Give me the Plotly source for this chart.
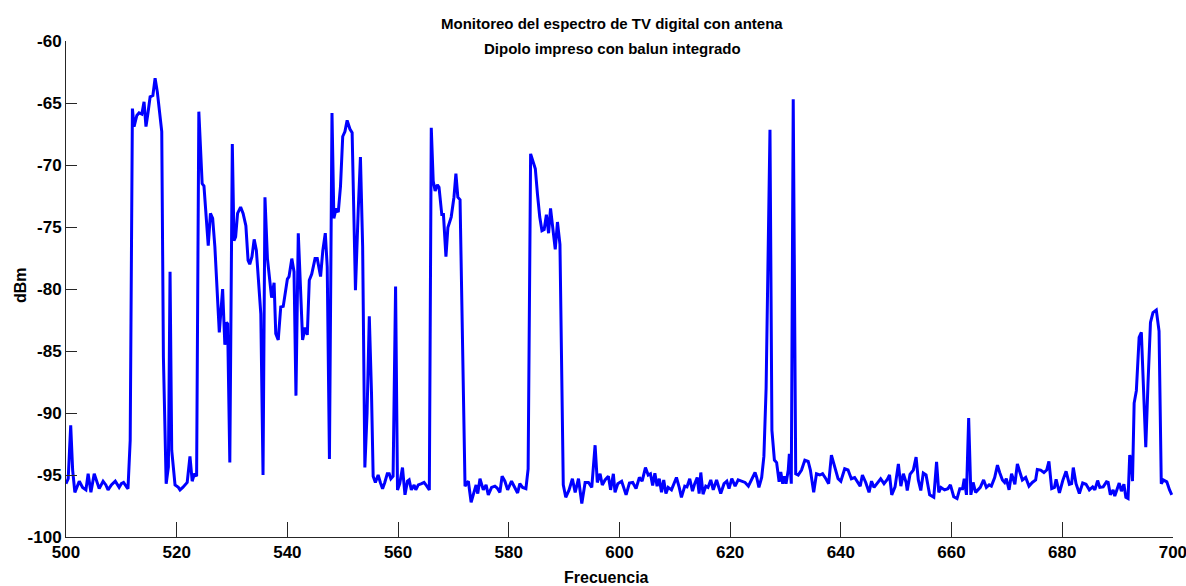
import plotly.graph_objects as go

freq = [
    500.0, 500.4, 500.85, 501.2, 501.6, 502.0, 502.4, 503.0, 503.6, 504.0,
    504.5, 505.1, 505.5, 506.0, 506.7, 507.2, 507.6, 508.2, 508.9, 509.6,
    510.0, 510.4, 511.0, 511.2, 511.6, 512.0, 512.3, 512.8, 513.2, 513.7,
    514.1, 514.45, 514.8, 515.2, 515.7, 516.1, 516.5, 517.0, 517.3, 517.6,
    518.1, 518.5, 518.8, 519.1, 519.7, 520.3, 520.6, 521.1, 521.5, 521.9,
    522.4, 522.8, 523.2, 523.6, 524.0, 524.6, 524.93, 525.7, 526.1, 526.5,
    526.9, 527.7, 528.3, 528.7, 529.0, 529.2, 529.6, 530.05, 530.35, 530.65,
    531.0, 531.55, 532.0, 532.5, 532.9, 533.2, 533.6, 534.0, 534.4, 534.9,
    535.2, 535.6, 535.95, 536.4, 536.9, 537.15, 537.6, 537.9, 538.35, 538.8,
    539.25, 539.75, 540.0, 540.3, 540.8, 541.2, 541.55, 541.97, 542.4, 542.75,
    543.2, 543.6, 543.96, 544.4, 545.0, 545.4, 546.0, 546.4, 546.85, 547.2,
    547.6, 548.06, 548.4, 548.8, 549.2, 549.6, 550.0, 550.4, 550.8, 551.3,
    551.7, 552.3, 552.8, 553.2, 553.6, 554.0, 554.4, 554.8, 555.2, 555.5,
    555.9, 556.4, 556.8, 557.2, 557.6, 558.05, 558.4, 558.7, 559.1, 559.55,
    559.9, 560.3, 560.8, 561.25, 561.7, 562.0, 562.4, 562.9, 563.2, 563.65,
    564.25, 564.7, 565.2, 565.65, 566.0, 566.35, 566.7, 567.1, 567.4, 567.9,
    568.2, 568.65, 569.0, 569.6, 570.1, 570.45, 570.8, 571.2, 572.1, 572.7,
    573.2, 573.6, 574.1, 574.4, 574.8, 575.4, 575.9, 576.3, 576.9, 577.5,
    577.9, 578.4, 578.8, 579.3, 579.8, 580.5, 581.1, 581.6, 582.0, 582.5,
    583.1, 583.5, 583.95, 584.3, 584.8, 585.2, 585.6, 586.0, 586.4, 586.8,
    587.2, 587.55, 588.0, 588.4, 588.8, 589.25, 589.85, 590.3, 590.9, 591.5,
    592.0, 592.6, 593.2, 593.8, 594.4, 595.0, 595.6, 596.0, 596.5, 596.9,
    597.4, 598.0, 598.4, 598.9, 599.2, 599.7, 600.4, 601.2, 601.8, 602.4,
    603.0, 603.6, 604.1, 604.7, 605.2, 605.6, 606.0, 606.4, 606.8, 607.2,
    607.6, 608.0, 608.4, 608.8, 609.4, 609.8, 610.3, 610.8, 611.2, 611.8,
    612.2, 612.7, 613.2, 613.6, 614.05, 614.4, 614.7, 615.1, 615.6, 616.0,
    616.5, 616.95, 617.55, 618.3, 618.9, 619.4, 619.8, 620.3, 620.9, 621.45,
    622.1, 622.7, 623.3, 623.9, 624.5, 624.8, 625.2, 625.7, 626.1, 626.5,
    626.8, 627.2, 627.55, 628.0, 628.4, 628.85, 629.15, 629.5, 629.8, 630.1,
    630.5, 630.7, 631.05, 631.4, 631.85, 632.3, 632.9, 633.5, 634.1, 634.5,
    635.1, 635.6, 636.2, 636.7, 637.3, 637.8, 638.3, 638.9, 639.5, 640.0,
    640.7, 641.3, 641.9, 642.5, 643.0, 643.5, 643.9, 644.5, 645.1, 645.55,
    646.0, 646.5, 647.2, 647.8, 648.4, 648.8, 649.2, 649.8, 650.4, 650.85,
    651.3, 651.8, 652.0, 652.5, 653.1, 653.6, 654.0, 654.45, 654.9, 655.4,
    656.05, 656.8, 657.3, 657.7, 658.1, 658.75, 659.35, 659.8, 660.4, 661.0,
    661.5, 662.0, 662.3, 662.7, 663.1, 663.5, 663.9, 664.35, 664.8, 665.2,
    665.8, 666.3, 666.8, 667.2, 667.8, 668.3, 668.7, 669.2, 669.6, 669.9,
    670.4, 670.85, 671.45, 671.9, 672.3, 672.8, 673.4, 674.0, 674.6, 675.2,
    675.5, 676.1, 676.7, 677.2, 677.6, 678.1, 678.6, 678.9, 679.5, 680.1,
    680.7, 681.3, 681.7, 682.0, 682.5, 683.1, 683.7, 684.3, 684.9, 685.5,
    685.9, 686.4, 686.8, 687.4, 688.0, 688.3, 688.7, 689.2, 689.5, 689.9,
    690.3, 690.7, 691.15, 691.5, 691.9, 692.2, 692.5, 692.7, 693.0, 693.4,
    693.9, 694.3, 694.7, 695.1, 695.5, 695.95, 696.4, 697.0, 697.5, 697.9,
    698.3, 698.9, 699.4, 699.8,
]

dbm = [
    -95.7, -95.3, -91.0, -94.6, -96.4, -95.9, -95.5, -96.0, -96.2, -94.9,
    -96.4, -94.9, -95.4, -96.1, -95.5, -95.8, -96.2, -95.8, -95.5, -96.0,
    -95.7, -95.6, -96.0, -96.1, -92.2, -65.45, -66.9, -66.0, -65.8, -65.9,
    -64.9, -66.9, -65.85, -64.5, -64.4, -63.0, -64.1, -65.85, -67.3, -85.5,
    -95.7, -94.35, -78.6, -93.0, -95.8, -96.0, -96.2, -96.0, -95.8, -95.6,
    -93.5, -95.5, -94.9, -95.1, -65.7, -71.5, -71.7, -76.5, -73.9, -74.3,
    -76.6, -83.5, -80.0, -84.5, -82.7, -82.8, -94.0, -68.3, -76.1, -75.8,
    -73.9, -73.4, -73.9, -74.9, -77.7, -78.0, -77.4, -76.0, -76.9, -79.8,
    -82.0, -95.0, -72.6, -77.55, -79.4, -80.7, -79.5, -83.6, -84.1, -81.45,
    -81.4, -79.8, -79.2, -79.0, -77.55, -78.6, -88.6, -75.5, -80.9, -84.1,
    -83.1, -83.7, -79.3, -78.8, -77.55, -77.55, -79.0, -76.9, -75.5, -78.2,
    -93.7, -65.8, -74.3, -73.5, -73.8, -71.7, -67.7, -67.3, -66.4, -67.1,
    -67.4, -80.1, -73.65, -69.35, -76.6, -94.4, -90.0, -82.2, -88.4, -95.1,
    -95.6, -95.0, -95.6, -96.1, -95.6, -94.9, -94.9, -95.3, -95.1, -79.8,
    -96.2, -95.7, -94.4, -96.6, -95.5, -95.4, -96.2, -95.8, -96.2, -95.8,
    -95.7, -95.6, -95.9, -96.2, -67.0, -71.3, -72.1, -71.6, -71.8, -74.0,
    -74.0, -77.4, -75.05, -74.2, -72.6, -70.7, -72.6, -72.8, -95.9, -95.5,
    -97.2, -96.5, -95.8, -96.5, -95.3, -96.2, -95.8, -96.6, -96.0, -95.9,
    -96.05, -96.4, -95.1, -95.5, -96.2, -95.5, -96.0, -96.45, -95.7, -96.0,
    -96.1, -94.5, -69.1, -69.6, -70.3, -72.4, -74.2, -75.3, -75.2, -74.0,
    -75.5, -73.5, -75.35, -76.8, -74.6, -76.4, -95.8, -96.8, -96.2, -95.3,
    -96.4, -95.3, -97.3, -95.6, -95.6, -96.0, -92.6, -95.6, -94.9, -95.8,
    -95.4, -95.1, -96.2, -94.9, -96.4, -95.7, -95.5, -96.6, -95.65, -95.6,
    -96.1, -95.2, -95.5, -94.4, -95.0, -94.9, -95.85, -94.85, -95.9, -95.3,
    -96.4, -95.4, -96.5, -96.0, -96.2, -95.7, -95.2, -96.0, -96.8, -95.9,
    -95.96, -95.3, -96.3, -95.7, -95.2, -96.5, -94.8, -96.55, -95.9, -96.0,
    -95.4, -96.2, -95.4, -96.5, -95.7, -95.5, -96.1, -95.3, -95.9, -95.4,
    -95.5, -95.6, -95.9, -95.3, -94.8, -95.2, -96.0, -95.2, -93.5, -88.0,
    -77.4, -67.15, -91.4, -93.8, -94.0, -95.55, -94.75, -95.7, -95.1, -95.7,
    -94.6, -93.3, -95.7, -64.7, -94.9, -95.0, -94.6, -93.8, -93.9, -94.6,
    -96.4, -94.9, -95.0, -94.9, -95.3, -95.7, -93.4, -94.35, -95.3, -95.5,
    -94.5, -94.6, -95.3, -95.2, -95.5, -95.9, -95.0, -95.6, -96.4, -95.5,
    -96.0, -95.7, -95.3, -95.7, -95.35, -95.0, -96.6, -95.96, -94.1, -95.9,
    -94.9, -95.6, -96.25, -94.95, -94.6, -93.55, -95.4, -96.25, -94.85, -95.0,
    -96.6, -96.8, -93.95, -96.4, -96.0, -96.2, -96.1, -95.8, -96.75, -96.9,
    -96.1, -96.1, -95.3, -96.6, -90.4, -96.6, -95.6, -96.4, -96.2, -96.0,
    -95.4, -96.0, -95.8, -95.9, -95.2, -94.2, -94.8, -95.4, -95.6, -95.3,
    -96.2, -94.9, -95.75, -94.1, -94.7, -95.4, -95.2, -95.9, -95.6, -95.4,
    -94.55, -94.6, -94.8, -94.6, -93.9, -96.1, -96.0, -95.35, -96.45, -95.45,
    -94.7, -95.75, -95.7, -94.4, -95.7, -96.5, -95.65, -95.75, -96.2, -95.96,
    -96.2, -95.45, -96.0, -95.96, -95.55, -95.6, -96.6, -96.2, -96.7, -96.2,
    -95.65, -96.3, -95.75, -96.8, -96.9, -93.4, -93.95, -95.5, -89.2, -88.2,
    -83.9, -83.5, -88.45, -92.75, -87.65, -82.7, -81.9, -81.7, -83.4, -95.7,
    -95.4, -95.55, -96.2, -96.6,
]

x_ticks = [500, 520, 540, 560, 580, 600, 620, 640, 660, 680, 700]
y_ticks = [-100, -95, -90, -85, -80, -75, -70, -65, -60]
y_tick_text = ["-100", "-95", "-90", "-85", "-80", "-75", "-70", "-65", "-60"]

title_lines = ["Monitoreo del espectro de TV digital con antena",
               "Dipolo impreso con balun integrado"]
x_title = "Frecuencia"
y_title = "dBm"

FONT = "Liberation Sans Narrow, Arial Narrow, Liberation Sans, Arial, sans-serif"
AX = "#262626"

fig = go.Figure()
fig.add_trace(go.Scatter(x=freq, y=dbm, mode="lines",
                         line=dict(color="#0000ff", width=3),
                         showlegend=False, hoverinfo="x+y"))

W, H = 1186, 586
ML, MR, MT, MB = 66, 13, 41, 49
pw, ph = W - ML - MR, H - MT - MB

def px(xp):
    return (xp - ML) / pw

def py(yp):
    return (H - MB - yp) / ph

axis_common = dict(showgrid=False, zeroline=False, showline=True,
                   linecolor=AX, linewidth=1, ticks="inside",
                   tickcolor=AX, tickwidth=1, mirror=False,
                   automargin=False, ticklabeloverflow="allow",
                   tickfont=dict(family=FONT, size=17, color="black", weight="bold"))

fig.update_layout(
    width=W, height=H,
    margin=dict(l=ML, r=MR, t=MT, b=MB, pad=0, autoexpand=False),
    paper_bgcolor="white", plot_bgcolor="white",
    xaxis=dict(range=[500, 700.02], tickmode="array", tickvals=x_ticks,
               ticktext=[str(v) for v in x_ticks], ticklen=15, **axis_common),
    yaxis=dict(range=[-100, -60], tickmode="array", tickvals=y_ticks,
               ticktext=y_tick_text, ticklen=11, **axis_common),
    annotations=[
        dict(text=title_lines[0], xref="paper", yref="paper",
             x=px(612), y=py(23.5), showarrow=False, xanchor="center", yanchor="middle",
             font=dict(family=FONT, size=15, color="black", weight="bold")),
        dict(text=title_lines[1], xref="paper", yref="paper",
             x=px(612), y=py(48), showarrow=False, xanchor="center", yanchor="middle",
             font=dict(family=FONT, size=15, color="black", weight="bold")),
        dict(text=x_title, xref="paper", yref="paper",
             x=px(606), y=py(577), showarrow=False, xanchor="center", yanchor="middle",
             font=dict(family=FONT, size=16, color="black", weight="bold")),
        dict(text=y_title, xref="paper", yref="paper", textangle=-90,
             x=px(20), y=py(285), showarrow=False, xanchor="center", yanchor="middle",
             font=dict(family=FONT, size=16, color="black", weight="bold")),
    ],
)

fig.write_html("out.html", config={"displayModeBar": False},
               post_script="document.body.style.margin='0';document.body.style.overflow='hidden';")
